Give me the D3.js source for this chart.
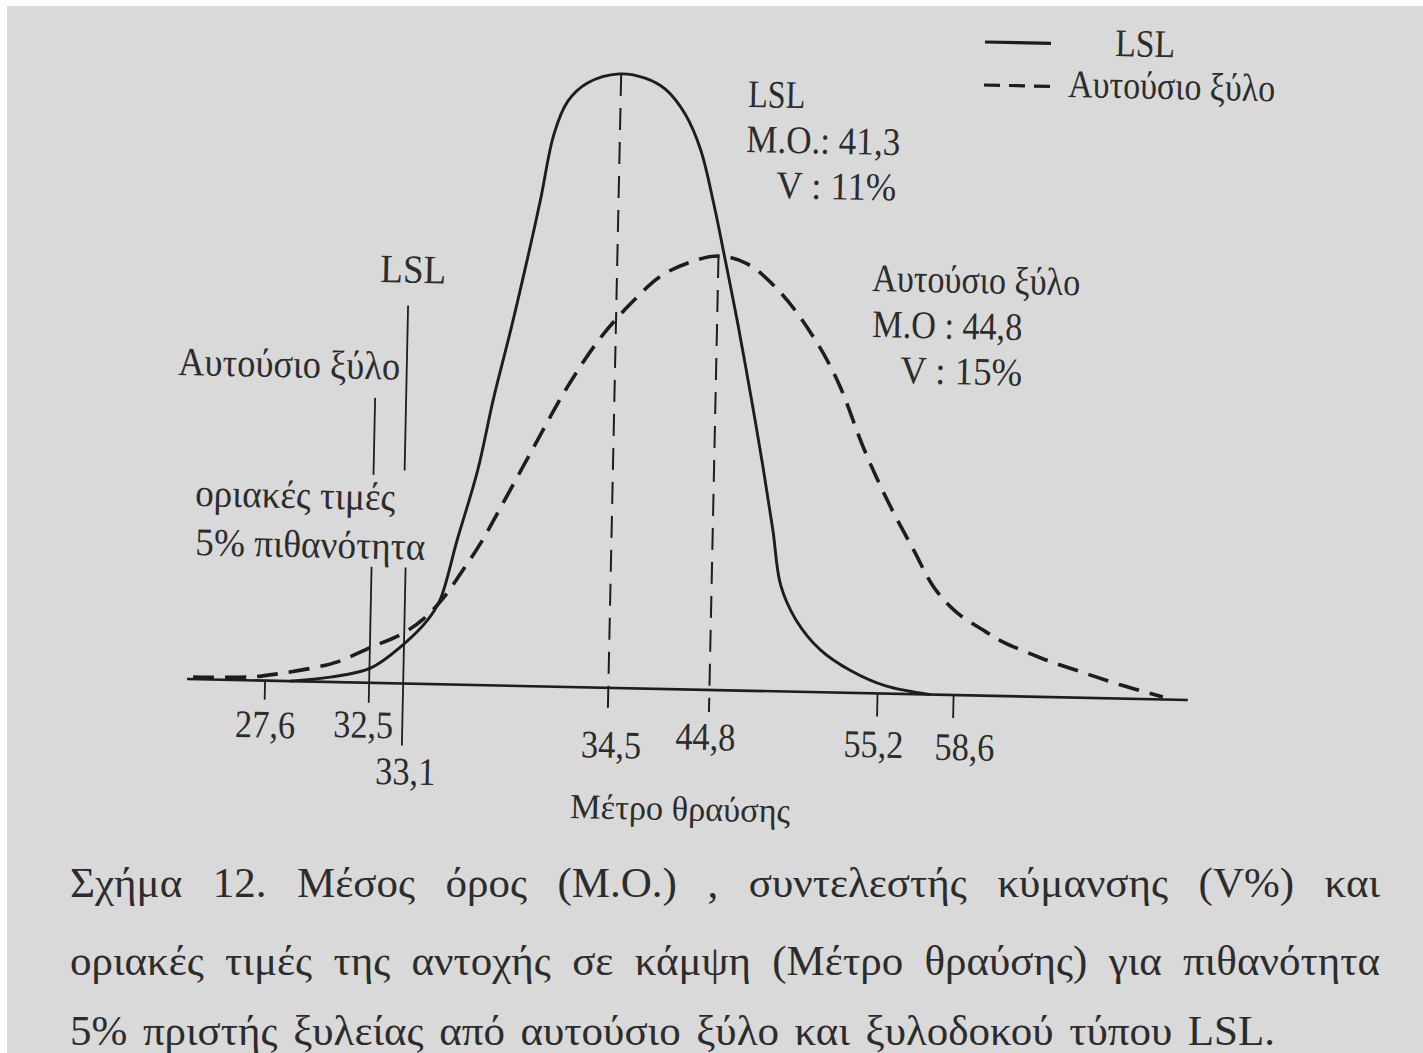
<!DOCTYPE html>
<html>
<head>
<meta charset="utf-8">
<title>Σχήμα 12</title>
<script src="https://d3js.org/d3.v7.min.js"></script>
<style>
  html, body { margin: 0; padding: 0; background: #fff; }
  svg { display: block; }
  text { font-family: "Liberation Serif", "DejaVu Serif", serif; fill: #2c2c2c; }
</style>
</head>
<body>
<div id="chart"></div>
<script>
// schematic axes: x = position along the base line (0..100),
// y = curve height (0..100, LSL peak = 100)
const seriesNames = ["LSL", "Αυτούσιο ξύλο"];

const lslCurve = [
  [10.3, 0], [14.3, 0.8], [18.3, 2.4], [21.5, 6.3], [23.9, 10.4], [25.1, 13.7],
  [26.7, 23.6], [28.6, 35.0], [30.0, 46.5], [31.6, 57.9], [33.1, 69.4], [34.3, 79.2],
  [35.5, 89.9], [36.8, 95.3], [38.75, 98.4], [41.9, 100], [44.5, 99.4], [46.6, 97.6],
  [48.6, 93.6], [50.2, 87.9], [51.6, 79.3], [52.7, 71.4], [54.3, 59.5], [55.7, 48.2],
  [57.05, 36.8], [58.2, 26.3], [59.1, 17.3], [60.7, 11.7], [63.2, 6.9], [66.3, 3.6],
  [69.8, 1.25], [74.3, 0]
];

const woodCurve = [
  [0.6, 0.35], [6.3, 0.55], [9.6, 1.3], [13.0, 2.4], [15.0, 3.3], [18.2, 5.7],
  [21.5, 8.2], [23.5, 10.6], [25.4, 14.0], [27.3, 18.6], [29.0, 23.0], [30.9, 28.8],
  [34.1, 38.8], [37.4, 48.9], [40.6, 57.0], [43.8, 63.1], [46.45, 67.2], [49.4, 69.6],
  [52.2, 70.7], [55.1, 69.5], [58.5, 64.9], [61.9, 57.7], [64.4, 50.6], [67.1, 39.9],
  [69.6, 31.4], [72.3, 23.5], [74.4, 17.5], [76.7, 13.5], [79.7, 10.4], [81.2, 9.0],
  [85.3, 6.3], [89.3, 4.2], [93.3, 2.2], [97.5, 0.4]
];

const tickLabels = ["27,6", "32,5", "33,1", "34,5", "44,8", "55,2", "58,6"];
const tickPos    = [7.8, 18.2, 21.6, 42.1, 52.2, 69.0, 76.6];
const tickKind   = ["tick", "limit", "limit", "mean", "mean", "tick", "tick"];

const lslStats  = ["M.O.: 41,3", "V : 11%"];
const woodStats = ["M.O : 44,8", "V : 15%"];
const limitNote = ["οριακές τιμές", "5% πιθανότητα"];
const xTitle = "Μέτρο θραύσης";

const captionLines = [
  "Σχήμα 12. Μέσος όρος (Μ.Ο.) , συντελεστής κύμανσης (V%) και",
  "οριακές τιμές της αντοχής σε κάμψη (Μέτρο θραύσης) για πιθανότητα",
  "5% πριστής ξυλείας από αυτούσιο ξύλο και ξυλοδοκού τύπου LSL."
];

// layout (pixels)
const tickDown   = [19, 20, 62, 20, 22, 23, 23];
const labelDx    = [1, -5, 4, 4, -3, -3, 12];
const labelDy    = [57, 55, 101, 70, 60, 64, 65];
const W = 1423, H = 1053;
const tilt = 1.2;   // the scanned figure is slightly rotated
const ink = "#1d1d1d";

const svg = d3.select("#chart").append("svg").attr("width", W).attr("height", H);
svg.append("rect").attr("x", 7).attr("y", 6).attr("width", W - 7).attr("height", H - 6)
  .attr("fill", "#d9d9d9");

const g = svg.append("g").attr("transform", `translate(187,679) rotate(${tilt})`);

const x = d3.scaleLinear().domain([0, 100]).range([0, 1001]);
const y = d3.scaleLinear().domain([0, 100]).range([0, -614]);

const curve = d3.line().x(d => x(d[0])).y(d => y(d[1])).curve(d3.curveCatmullRom.alpha(0.5));

// base line
g.append("line")
  .attr("x1", x(0)).attr("x2", x(100)).attr("y1", y(0)).attr("y2", y(0))
  .attr("stroke", ink).attr("stroke-width", 2.6);

// ticks, limit lines and mean lines
const peaks = [d3.max(lslCurve, d => d[1]), d3.max(woodCurve, d => d[1])];
const topOf = i => tickKind[i] === "mean" ? y(peaks[i - 3]) : tickKind[i] === "limit" ? -116 : 0;

g.selectAll(".tk").data(tickPos).join("line").attr("class", "tk")
  .attr("x1", d => x(d)).attr("x2", d => x(d))
  .attr("y1", (d, i) => topOf(i)).attr("y2", (d, i) => tickDown[i])
  .attr("stroke", ink)
  .attr("stroke-width", (d, i) => tickKind[i] === "mean" ? 2 : 1.8)
  .attr("stroke-dasharray", (d, i) => tickKind[i] === "mean" ? "22 12" : null);

g.selectAll(".tl").data(tickLabels).join("text").attr("class", "tl")
  .attr("x", (d, i) => x(tickPos[i]) + labelDx[i])
  .attr("y", (d, i) => labelDy[i])
  .attr("text-anchor", "middle")
  .attr("font-size", 39)
  .attr("textLength", 60).attr("lengthAdjust", "spacingAndGlyphs")
  .text(d => d);

// leader lines from the left-hand labels to the limit lines
g.append("line").attr("x1", x(tickPos[2]) - 3).attr("x2", x(tickPos[2]) - 3)
  .attr("y1", -378).attr("y2", -213).attr("stroke", ink).attr("stroke-width", 1.8);
g.append("line").attr("x1", x(tickPos[1])).attr("x2", x(tickPos[1]))
  .attr("y1", -285).attr("y2", -208).attr("stroke", ink).attr("stroke-width", 1.8);

// curves
g.append("path").datum(woodCurve).attr("d", curve)
  .attr("fill", "none").attr("stroke", ink).attr("stroke-width", 3.6)
  .attr("stroke-dasharray", "21 11");
g.append("path").datum(lslCurve).attr("d", curve)
  .attr("fill", "none").attr("stroke", ink).attr("stroke-width", 2.9);

// free texts (screen positions, tilted with the scan)
function label(str, X, Y, size, width) {
  const t = svg.append("text")
    .attr("transform", `translate(${X},${Y}) rotate(${tilt})`)
    .attr("font-size", size).text(str);
  if (width) t.attr("textLength", width).attr("lengthAdjust", "spacingAndGlyphs");
  return t;
}

// legend
const legend = [
  { dash: null, lx: 985, ly: 42, tx: 1115, ty: 56, w: 60 },
  { dash: "16 9", lx: 984, ly: 85, tx: 1068, ty: 97, w: 207 }
];
legend.forEach((l, i) => {
  svg.append("line")
    .attr("transform", `translate(${l.lx},${l.ly}) rotate(${tilt})`)
    .attr("x1", 0).attr("x2", 66).attr("y1", 0).attr("y2", 0)
    .attr("stroke", ink).attr("stroke-width", 3.2)
    .attr("stroke-dasharray", l.dash);
  label(seriesNames[i], l.tx, l.ty, 39, l.w);
});

// series annotations
label(seriesNames[0], 748, 107, 39, 57);
label(lslStats[0], 746, 152, 39, 154);
label(lslStats[1], 776, 198, 39, 120);
label(seriesNames[1], 872, 291, 39, 208);
label(woodStats[0], 872, 337, 39, 150);
label(woodStats[1], 900, 383, 39, 122);

// limit value labels
label(seriesNames[0], 380, 282, 40, 66);
label(seriesNames[1], 178, 375, 40, 222);
label(limitNote[0], 195, 506, 39, 200);
label(limitNote[1], 195, 555, 39, 230);

label(xTitle, 570, 818, 35, 220);

// caption, justified
function justified(str, X, Y, width, size) {
  const words = str.split(" ");
  const t = svg.append("text").attr("y", Y).attr("font-size", size);
  const widths = words.map(w => { t.text(w); return t.node().getComputedTextLength(); });
  t.text(null);
  const gap = (width - d3.sum(widths)) / (words.length - 1);
  let cx = X;
  words.forEach((w, i) => {
    t.append("tspan").attr("x", cx).text(w);
    cx += widths[i] + gap;
  });
}
justified(captionLines[0], 70, 897, 1310, 43);
justified(captionLines[1], 70, 975, 1310, 43);
justified(captionLines[2], 70, 1045, 1205, 43);
</script>
</body>
</html>
